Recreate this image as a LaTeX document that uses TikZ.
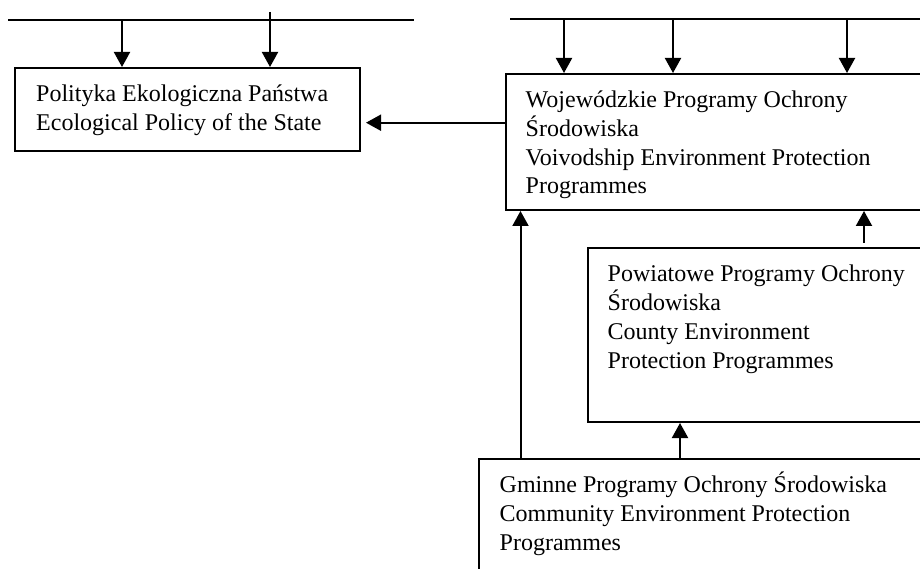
\documentclass[tikz,border=0pt]{standalone}
\usepackage{fontspec}
\setmainfont{Liberation Serif}
\usetikzlibrary{arrows.meta}
\tikzset{
  x=1pt, y=-1pt,
  ln/.style={line width=2pt, line cap=butt},
  arr/.style={ln, -{Triangle[length=15pt,width=16pt]}},
  boxnode/.style={draw, line width=2pt, anchor=north west, inner sep=0pt},
  txt/.style={anchor=base west, align=left, inner sep=0pt, font=\fontsize{24pt}{28.8pt}\selectfont},
}
\begin{document}
\begin{tikzpicture}
\useasboundingbox (0,0) rectangle (920,569);
\clip (0,0) rectangle (920,569);
% boxes
\node[boxnode, minimum width=345pt, minimum height=83pt] (pol) at (14,67) {};
\node[boxnode, minimum width=460pt, minimum height=136pt] (woj) at (505,73) {};
\node[boxnode, minimum width=380pt, minimum height=174pt] (pow) at (587,247) {};
\node[boxnode, minimum width=490pt, minimum height=150pt] (gmi) at (478,458) {};
% texts (base = baseline of last line)
\node[txt] (tpol) at (36,130.3) {Polityka Ekologiczna Państwa\\Ecological Policy of the State};
\node[txt] (twoj) at (525.5,194) {Wojewódzkie Programy Ochrony\\Środowiska\\Voivodship Environment Protection\\Programmes};
\node[txt] (tpow) at (607.5,368.3) {Powiatowe Programy Ochrony\\Środowiska\\County Environment\\Protection Programmes};
\node[txt] (tgmi) at (499.5,550) {Gminne Programy Ochrony Środowiska\\Community Environment Protection\\Programmes};
% top lines
\coordinate (la) at (8,20.5);
\coordinate (lb) at (414,20.5);
\draw[ln] (la) -- (lb);
\coordinate (ra) at (510,19.5);
\coordinate (rb) at (925,19.5);
\draw[ln] (ra) -- (rb);
% arrows from top lines
\coordinate (p1) at (122,20.5);
\coordinate (p2) at (270,12);
\draw[arr] (p1) -- (p1 |- pol.north);
\draw[arr] (p2) -- (p2 |- pol.north);
\coordinate (q1) at (564,19.5);
\coordinate (q2) at (673,19.5);
\coordinate (q3) at (847,19.5);
\draw[arr] (q1) -- (q1 |- woj.north);
\draw[arr] (q2) -- (q2 |- woj.north);
\draw[arr] (q3) -- (q3 |- woj.north);
% woj -> pol
\coordinate (hy) at (0,122.7);
\coordinate (pe) at ([xshift=5pt]pol.east |- hy);
\draw[arr] (woj.west |- hy) -- (pe);
% gmi -> woj
\coordinate (g1) at (520.5,0);
\draw[arr] (g1 |- gmi.north) -- (g1 |- woj.south);
% gmi -> pow
\coordinate (g2) at (680,0);
\draw[arr] (g2 |- gmi.north) -- (g2 |- pow.south);
% pow -> woj
\coordinate (w1) at (864,243);
\draw[arr] (w1) -- (w1 |- woj.south);
\end{tikzpicture}
\end{document}
